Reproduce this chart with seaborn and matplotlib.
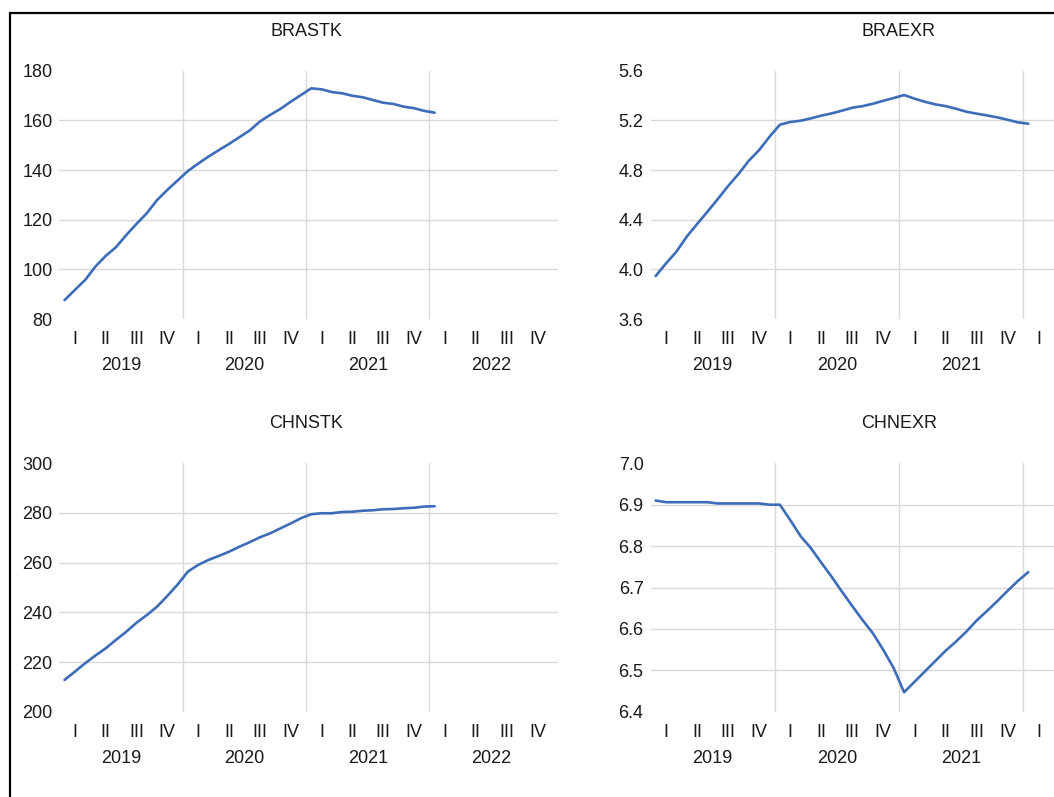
import numpy as np
import pandas as pd
import matplotlib
matplotlib.use('Agg')
import matplotlib.pyplot as plt
import matplotlib.transforms as mtransforms
from matplotlib.lines import Line2D
import seaborn as sns

# monthly series, Jan 2019 .. Jan 2022
brastk = [87.6, 91.7, 95.7, 101.1, 105.4, 108.9, 113.8, 118.3, 122.6, 127.9, 132.0, 135.8,
          139.6, 142.6, 145.4, 148.0, 150.5, 153.2, 155.9, 159.5, 162.2, 164.6, 167.5, 170.2,
          172.9, 172.5, 171.4, 170.9, 169.9, 169.3, 168.2, 167.1, 166.6, 165.5, 164.9, 163.8,
          163.1]
braexr = [3.946, 4.048, 4.142, 4.263, 4.365, 4.464, 4.566, 4.671, 4.768, 4.875, 4.961, 5.068,
          5.165, 5.187, 5.197, 5.216, 5.238, 5.256, 5.278, 5.302, 5.315, 5.334, 5.358, 5.380,
          5.404, 5.375, 5.350, 5.329, 5.315, 5.294, 5.270, 5.254, 5.240, 5.224, 5.205, 5.184,
          5.173]
chnstk = [212.8, 216.1, 219.5, 222.6, 225.5, 228.9, 232.2, 235.8, 238.9, 242.3, 246.6, 251.2,
          256.4, 259.1, 261.1, 262.7, 264.4, 266.4, 268.2, 270.2, 271.8, 273.8, 275.8, 277.9,
          279.5, 279.9, 279.9, 280.4, 280.5, 280.9, 281.1, 281.5, 281.6, 281.9, 282.1, 282.6,
          282.7]
chnexr = [6.910, 6.906, 6.906, 6.906, 6.906, 6.906, 6.903, 6.903, 6.903, 6.903, 6.903, 6.900,
          6.900, 6.863, 6.824, 6.795, 6.760, 6.726, 6.690, 6.655, 6.621, 6.589, 6.549, 6.505,
          6.447, 6.472, 6.497, 6.522, 6.547, 6.569, 6.593, 6.620, 6.643, 6.667, 6.692, 6.716,
          6.737]

years = ['2019', '2020', '2021', '2022']
quarters = ['I', 'II', 'III', 'IV']

df = pd.DataFrame({'pos': np.arange(len(brastk)) + 0.5,
                   'BRASTK': brastk, 'BRAEXR': braexr,
                   'CHNSTK': chnstk, 'CHNEXR': chnexr})

sns.set_theme(style='white')
plt.rcParams['font.family'] = ['Liberation Sans', 'DejaVu Sans']

W, H = 1054, 797
fig = plt.figure(figsize=(W / 100, H / 100), dpi=100)
fig.patch.set_facecolor('white')

LINE = '#3D6CB9'
GRID = '#D9D9D9'
TXT = '#1a1a1a'
FS = 13


def px_rect(x0, top, x1, bottom):
    return [x0 / W, 1 - bottom / H, (x1 - x0) / W, (bottom - top) / H]


def panel(x0, top, bottom, mpx, xmax, col, ylim, step, fmt):
    rect = px_rect(x0, top, x0 + xmax * mpx, bottom)
    ax = fig.add_axes(rect)
    ax.set_facecolor('white')
    sns.lineplot(data=df, x='pos', y=col, ax=ax, color=LINE, linewidth=1.9)
    ax.set_xlim(0, xmax)
    ax.set_ylim(*ylim)
    ticks = np.arange(ylim[0], ylim[1] + step / 2, step)
    for t in ticks[1:-1]:
        ax.axhline(t, color=GRID, lw=1.0, zorder=0)
    for m in (12, 24, 36):
        ax.axvline(m, color=GRID, lw=1.0, zorder=0)
    ax.set_yticks(ticks)
    ax.set_yticklabels([fmt.format(t) for t in ticks], fontsize=FS, color=TXT)
    ax.tick_params(axis='y', length=0, pad=5)
    ax.set_xticks([])
    ax.set_xlabel('')
    ax.set_ylabel('')
    for s in ax.spines.values():
        s.set_visible(False)
    ax.grid(False)

    hpx = bottom - top
    trans = mtransforms.blended_transform_factory(ax.transData, ax.transAxes)
    for yi, yr in enumerate(years):
        for qi, q in enumerate(quarters):
            xm = yi * 12 + qi * 3 + 1.5
            if x0 + xm * mpx < W - 10:
                ax.text(xm, -25 / hpx, q, transform=trans, ha='center', va='baseline',
                        fontsize=FS, color=TXT, clip_on=False)
        if x0 + (yi * 12 + 6) * mpx < W - 25:
            ax.text(yi * 12 + 6, -51 / hpx, yr, transform=trans, ha='center', va='baseline',
                    fontsize=FS, color=TXT, clip_on=False)
    ax.text(24, 1 + 35 / hpx, col, transform=trans, ha='center', va='baseline',
            fontsize=FS, color=TXT, clip_on=False)
    return ax


left_w = (558.3 - 59.4) / 10.28
panel(59.4, 70.7, 319.0, 10.28, left_w, 'BRASTK', (80, 180), 20, '{:.0f}')
panel(650.5, 70.7, 319.0, 10.35, 48, 'BRAEXR', (3.6, 5.6), 0.4, '{:.1f}')
panel(59.4, 463.3, 711.7, 10.28, left_w, 'CHNSTK', (200, 300), 20, '{:.0f}')
panel(650.5, 463.3, 711.7, 10.35, 48, 'CHNEXR', (6.4, 7.0), 0.1, '{:.1f}')

# sheet border (top and left edges of the frame)
fig.add_artist(Line2D([10 / W, 1], [1 - 13 / H, 1 - 13 / H], color='black', lw=1.6))
fig.add_artist(Line2D([10 / W, 10 / W], [0, 1 - 13 / H], color='black', lw=1.6))

fig.savefig('out.png', dpi=100)
